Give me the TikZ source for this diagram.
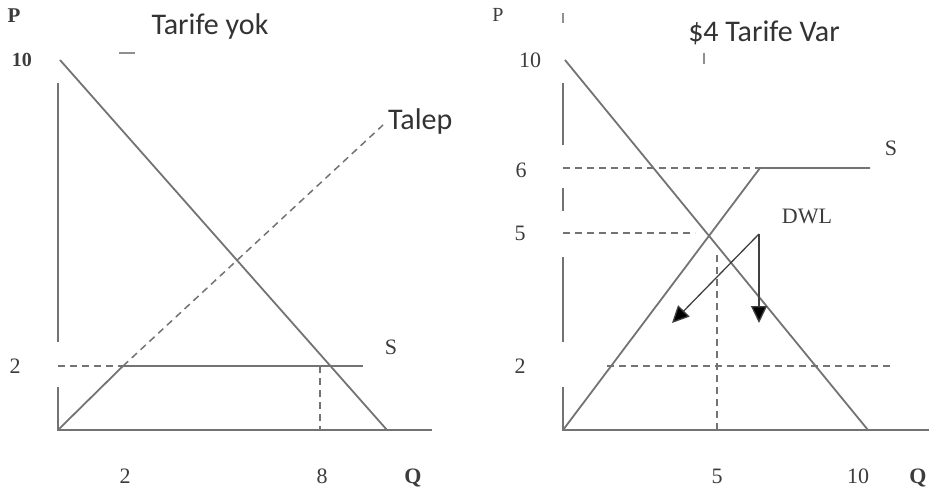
\documentclass[tikz,border=0pt]{standalone}
\usepackage{fontspec}
\setmainfont{Liberation Serif}
\newfontfamily\calibri{Carlito}
\usetikzlibrary{arrows.meta}
\definecolor{linegray}{RGB}{115,115,115}
\definecolor{textgray}{RGB}{60,60,60}

\begin{document}
\begin{tikzpicture}[x=1pt,y=-1pt,
    every node/.style={font=\fontsize{22}{24}\selectfont,text=textgray,inner sep=0pt},
    curve/.style={draw=linegray,line width=1.8pt},
    axis/.style={draw=linegray,line width=2.1pt},
    guide/.style={draw=linegray,line width=1.5pt,dash pattern=on 7pt off 5pt},
    title/.style={font=\calibri\fontsize{30}{32}\selectfont,text=black!80},
    speck/.style={draw=linegray!80,line width=2pt},
    pointer/.style={draw=black!75,line width=1.3pt,-{Triangle[length=17pt,width=16pt,fill=black]}}]
  \useasboundingbox (0,0) rectangle (929,496);
  % left panel: no tariff
  \begin{scope}
    \node[font=\bfseries\fontsize{21}{22}\selectfont] (lP) at (14,16) {P};
    \node[title] (ltitle) at (210,26) {Tarife yok};
    \coordinate (lmk1) at (119,53); \coordinate (lmk2) at (135,53);
    \draw[speck] (lmk1)--(lmk2);
    \node[font=\bfseries\fontsize{20}{22}\selectfont] (l10) at (22,60) {10};
    \node (lp2) at (15,366) {2};
    \node (lq2) at (125,476) {2};
    \node (lq8) at (322,476) {8};
    \node[font=\bfseries\fontsize{22}{24}\selectfont] (lQ) at (413,478) {Q};
    \coordinate (lo) at (58,430); \coordinate (lxend) at (432,430);
    \coordinate (ly1) at (58,83); \coordinate (ly2) at (58,342); \coordinate (ly3) at (58,387);
    \draw[axis] (ly1)--(ly2);
    \draw[axis] (ly3)--(lo)--(lxend);
    \coordinate (ld1) at (60,60); \coordinate (ld2) at (387,430);
    \draw[curve] (ld1)--(ld2);
    \coordinate (lk) at (123,366); \coordinate (lt) at (383,125);
    \draw[curve] (lo)--(lk);
    \draw[guide] (lk)--(lt);
    \node[title,anchor=west] (ltalep) at (388,121) {Talep};
    \coordinate (lw) at (58,366); \coordinate (lwe) at (363,366);
    \draw[guide] (lw)--(lk);
    \draw[curve] (lk)--(lwe);
    \node (lS) at (391,347) {S};
    \coordinate (lv1) at (320,366); \coordinate (lv2) at (320,430);
    \draw[guide] (lv1)--(lv2);
  \end{scope}
  % right panel: $4 tariff
  \begin{scope}
    \node[font=\fontsize{20}{22}\selectfont] (rP) at (498,15) {P};
    \coordinate (rmk1) at (563,13); \coordinate (rmk2) at (563,23);
    \draw[speck] (rmk1)--(rmk2);
    \node[title] (rtitle) at (764,33) {\$4 Tarife Var};
    \coordinate (rmk3) at (704,53); \coordinate (rmk4) at (704,64);
    \draw[speck,line width=1.5pt] (rmk3)--(rmk4);
    \node (r10) at (530,60) {10};
    \node (rp6) at (521,170) {6};
    \node (rp5) at (520,233) {5};
    \node (rp2) at (520,366) {2};
    \node (rq5) at (717,476) {5};
    \node (rq10) at (858,476) {10};
    \node[font=\bfseries\fontsize{22}{24}\selectfont] (rQ) at (918,478) {Q};
    \coordinate (ro) at (563,430); \coordinate (rxend) at (929,430);
    \coordinate (ry1) at (563,83); \coordinate (ry2) at (563,145);
    \coordinate (ry3) at (563,188); \coordinate (ry4) at (563,211);
    \coordinate (ry5) at (563,257); \coordinate (ry6) at (563,342);
    \coordinate (ry7) at (563,387);
    \draw[axis] (ry1)--(ry2);
    \draw[axis] (ry3)--(ry4);
    \draw[axis] (ry5)--(ry6);
    \draw[axis] (ry7)--(ro)--(rxend);
    \coordinate (rd1) at (565,60); \coordinate (rd2) at (868,430);
    \draw[curve] (rd1)--(rd2);
    \coordinate (rk) at (760,168); \coordinate (rke) at (870,168);
    \draw[curve] (ro)--(rk)--(rke);
    \node (rS) at (891,148) {S};
    \coordinate (r6) at (563,168);
    \draw[guide] (r6)--(rk);
    \coordinate (r5) at (563,233); \coordinate (r5e) at (695,233);
    \draw[guide] (r5)--(r5e);
    \coordinate (rv1) at (717,255); \coordinate (rv2) at (717,430);
    \draw[guide] (rv1)--(rv2);
    \coordinate (r2) at (607,366); \coordinate (r2e) at (893,366);
    \draw[guide] (r2)--(r2e);
    \node (rdwl) at (807,216) {DWL};
    \coordinate (rapex) at (759,234);
    \coordinate (rtip1) at (672,323); \coordinate (rtip2) at (759,323);
    \draw[pointer] (rapex)--(rtip1);
    \draw[pointer] (rapex)--(rtip2);
  \end{scope}
\end{tikzpicture}
\end{document}
